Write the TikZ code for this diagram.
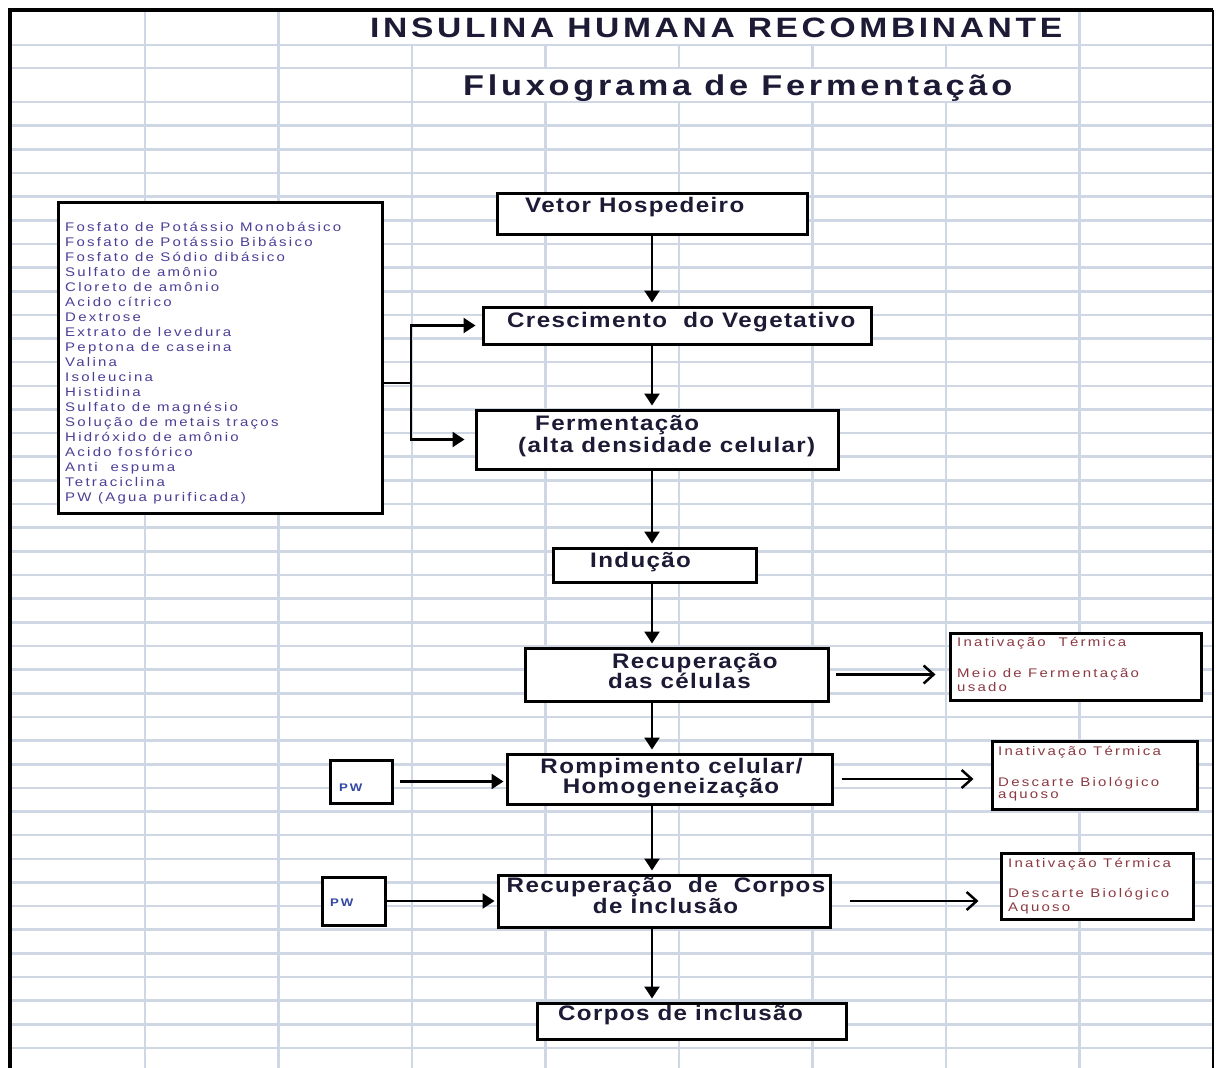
\documentclass[tikz,border=0pt]{standalone}
\usepackage{fontspec}
\setmainfont{Liberation Sans}
\newfontfamily\headfont[FakeStretch=1.2,LetterSpace=13]{Liberation Sans}
\newfontfamily\stagefont[FakeStretch=1.15,LetterSpace=6.5]{Liberation Sans}
\newfontfamily\smallfont[FakeStretch=1.2,LetterSpace=18]{Liberation Sans}
\usetikzlibrary{arrows.meta,calc}

\definecolor{gridblue}{RGB}{208,215,228}
\definecolor{inktext}{RGB}{28,26,52}
\definecolor{listink}{RGB}{78,62,150}
\definecolor{wasteink}{RGB}{140,58,66}
\definecolor{pwink}{RGB}{50,72,165}

\tikzset{
  gridline/.style={draw=gridblue, line width=2.6pt},
  stagebox/.style={draw=black, line width=3pt, fill=white, inner sep=0pt},
  headtext/.style={inner sep=0pt, text=inktext, font={\headfont\bfseries\fontsize{#1}{30}\selectfont}},
  headtext/.default=28,
  stagetext/.style={inner sep=0pt, text=inktext, font={\stagefont\bfseries\fontsize{21}{21}\selectfont}},
  listtext/.style={inner sep=0pt, text=listink, font={\smallfont\fontsize{12.5}{15}\selectfont}},
  wastetext/.style={inner sep=0pt, text=wasteink, font={\smallfont\fontsize{12.5}{15}\selectfont}},
  pwtext/.style={inner sep=0pt, text=pwink, font={\smallfont\bfseries\fontsize{11}{13}\selectfont}},
  flow/.style={line width=2.5pt, -{Triangle[length=12pt,width=15pt]}, shorten >=3pt},
  outflow/.style={line width=2.5pt, -{Straight Barb[length=10pt,width=18pt]}},
  feed/.style={line width=2.5pt}
}

\begin{document}
\begin{tikzpicture}[x=1pt,y=-1pt]
  \useasboundingbox[fill=white] (0,0) rectangle (1216,1068);

  % Spreadsheet grid
  \draw[gridline] (10,45) -- (1213,45);
  \draw[gridline] (10,68) -- (1213,68);
  \foreach \k in {0,...,40}
    \draw[gridline] (10,102+23.65*\k) -- (1213,102+23.65*\k);
  \foreach \gx in {145,278.5,1079.5}
    \draw[gridline] (\gx,10) -- (\gx,1068);
  \draw[gridline] (412,45) -- (412,1068);
  \foreach \gx in {545.5,679,812.5,946} {
    \draw[gridline] (\gx,45) -- (\gx,68);
    \draw[gridline] (\gx,102) -- (\gx,1068);
  }
  \draw[line width=4pt] (10,1068) -- (10,10) -- (1213,10);
  \draw[line width=2.5pt] (1213,10) -- (1213,1068);

  % Titles
  \node[headtext, anchor=base west] (titulo) at (370,37) {INSULINA HUMANA RECOMBINANTE};
  \node[headtext=28.6, anchor=base west] (subtitulo) at (463,95) {Fluxograma de Fermentação};

  % Main stages
  \node[stagebox, minimum width=310pt, minimum height=41pt] (vetor) at (652,213.5) {};
  \node[stagebox, minimum width=388pt, minimum height=37pt] (cresc) at (677,325.5) {};
  \node[stagebox, minimum width=362pt, minimum height=59pt] (ferm) at (657,439.5) {};
  \node[stagebox, minimum width=203pt, minimum height=34pt] (induc) at (654.5,565) {};
  \node[stagebox, minimum width=303pt, minimum height=53pt] (recup) at (676.5,674.5) {};
  \node[stagebox, minimum width=325pt, minimum height=50pt] (romp) at (669.5,779) {};
  \node[stagebox, minimum width=332pt, minimum height=52pt] (rcorpos) at (664,901) {};
  \node[stagebox, minimum width=309pt, minimum height=36pt] (corpos) at (691.5,1021) {};

  \node[stagetext, anchor=base west] (vetor-t) at (525,212) {Vetor Hospedeiro};
  \node[stagetext, anchor=base west] (cresc-t) at (507,327) {Crescimento~ do Vegetativo};
  \node[stagetext, anchor=base west] (ferm-t1) at (535,430) {Fermentação};
  \node[stagetext, anchor=base west] (ferm-t2) at (518,452) {(alta densidade celular)};
  \node[stagetext, anchor=base west] (induc-t) at (590,567) {Indução};
  \node[stagetext, anchor=base west] (recup-t1) at (612,668) {Recuperação};
  \node[stagetext, anchor=base west] (recup-t2) at (608,688) {das células};
  \node[stagetext, anchor=base] (romp-t1) at (671.5,773) {Rompimento celular/};
  \node[stagetext, anchor=base] (romp-t2) at (671,793) {Homogeneização};
  \node[stagetext, anchor=base] (rcorpos-t1) at (666,892) {Recuperação~ de~ Corpos};
  \node[stagetext, anchor=base] (rcorpos-t2) at (665.5,913) {de Inclusão};
  \node[stagetext, anchor=base west] (corpos-t) at (558,1020) {Corpos de inclusão};

  % Medium components
  \node[stagebox, minimum width=324pt, minimum height=311pt] (meio) at (220,357.5) {};
  \foreach \comp [count=\i] in {Fosfato de Potássio Monobásico, Fosfato de Potássio Bibásico,
      Fosfato de Sódio dibásico, Sulfato de amônio, Cloreto de amônio, Acido cítrico,
      Dextrose, Extrato de levedura, Peptona de caseina, Valina, Isoleucina, Histidina,
      Sulfato de magnésio, Solução de metais traços, Hidróxido de amônio, Acido fosfórico,
      Anti~ espuma, Tetraciclina, PW (Agua purificada)}
    \node[listtext, anchor=base west] (meio-\i) at (65,216+15*\i) {\comp};

  % Water inlets
  \node[stagebox, minimum width=62pt, minimum height=43pt] (pw1) at (361,781.5) {};
  \node[pwtext, anchor=base west] (pw1-t) at (339,791) {PW};
  \node[stagebox, minimum width=63pt, minimum height=48pt] (pw2) at (353.5,901) {};
  \node[pwtext, anchor=base west] (pw2-t) at (330,906) {PW};

  % Waste streams
  \node[stagebox, minimum width=251pt, minimum height=67pt] (res1) at (1075.5,666.5) {};
  \node[wastetext, anchor=base west] (res1-a) at (957,646) {Inativação~ Térmica};
  \node[wastetext, anchor=base west] (res1-b) at (957,677) {Meio de Fermentação};
  \node[wastetext, anchor=base west] (res1-c) at (957,691) {usado};
  \node[stagebox, minimum width=205pt, minimum height=68pt] (res2) at (1094.5,775) {};
  \node[wastetext, anchor=base west] (res2-a) at (998,755) {Inativação Térmica};
  \node[wastetext, anchor=base west] (res2-b) at (998,786) {Descarte Biológico};
  \node[wastetext, anchor=base west] (res2-c) at (998,798) {aquoso};
  \node[stagebox, minimum width=192pt, minimum height=66pt] (res3) at (1097,886) {};
  \node[wastetext, anchor=base west] (res3-a) at (1008,867) {Inativação Térmica};
  \node[wastetext, anchor=base west] (res3-b) at (1008,897) {Descarte Biológico};
  \node[wastetext, anchor=base west] (res3-c) at (1008,911) {Aquoso};

  % Main flow
  \foreach \a/\b in {vetor/cresc,cresc/ferm,ferm/induc,induc/recup,recup/romp,romp/rcorpos,rcorpos/corpos}
    \draw[flow] (vetor.south |- \a.south) -- (vetor.south |- \b.north);

  % Medium feed
  \coordinate (split) at (411,383);
  \draw[feed] (meio.east |- split) -- (split);
  \draw[flow, shorten >=6pt] (split) |- (cresc.west);
  \draw[flow, shorten >=10pt] (split) |- (ferm.west);

  % Water feed
  \draw[flow, shorten <=6pt, shorten >=2pt] (pw1) -- (pw1 -| romp.west);
  \draw[flow, shorten >=2pt] (pw2) -- (pw2 -| rcorpos.west);

  % Outputs
  \draw[outflow, shorten <=6pt, shorten >=13pt] (recup.east) -- (recup.east -| res1.west);
  \draw[outflow, shorten <=8pt, shorten >=17pt] (romp.east) -- (romp.east -| res2.west);
  \draw[outflow, shorten <=18pt, shorten >=21pt] (rcorpos.east) -- (rcorpos.east -| res3.west);
\end{tikzpicture}
\end{document}
